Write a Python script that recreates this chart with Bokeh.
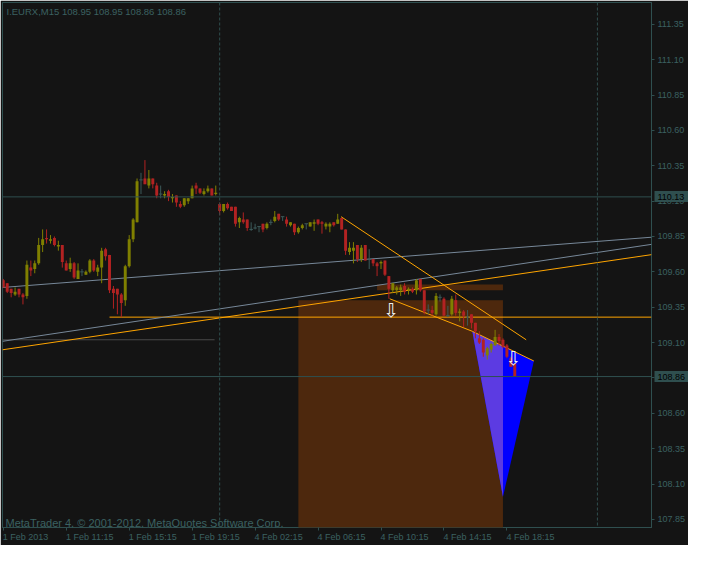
import numpy as np
from bokeh.plotting import figure
from bokeh.models import (ColumnDataSource, FixedTicker, Label, Span, Range1d,
                          NumeralTickFormatter, LinearAxis)
from bokeh.core.properties import value
from bokeh.embed import file_html
from bokeh.resources import INLINE

# ---------------- data (I.EURX, M15) ----------------
opens = [109.54, 109.52, 109.48, 109.44, 109.48, 109.44, 109.43, 109.63, 109.62, 109.66,
         109.79, 109.84, 109.82, 109.84, 109.78, 109.79, 109.66, 109.62, 109.66, 109.55,
         109.60, 109.58, 109.60, 109.68, 109.60, 109.63, 109.76, 109.72, 109.48, 109.48,
         109.44, 109.40, 109.64, 109.83, 109.95, 110.25, 110.26, 110.21, 110.26, 110.21,
         110.15, 110.14, 110.17, 110.12, 110.14, 110.08, 110.07, 110.10, 110.12, 110.21,
         110.19, 110.15, 110.17, 110.19, 110.15, 110.08, 110.03, 110.08, 110.06, 110.06,
         109.95, 109.97, 109.97, 109.90, 109.91, 109.92, 109.94, 109.91, 109.95, 109.96,
         110.01, 109.99, 109.97, 109.93, 109.94, 109.88, 109.91, 109.94, 109.92, 109.94,
         109.97, 109.95, 109.92, 109.92, 109.95, 109.94, 109.98, 109.90, 109.74, 109.75,
         109.79, 109.69, 109.79, 109.69, 109.69, 109.66, 109.66, 109.68, 109.57, 109.47,
         109.47, 109.47, 109.50, 109.47, 109.48, 109.47, 109.55, 109.47, 109.33, 109.33,
         109.30, 109.42, 109.41, 109.29, 109.30, 109.40, 109.31, 109.32, 109.28, 109.30,
         109.24, 109.13, 109.12, 109.01, 109.05, 109.08, 109.14, 109.12, 109.08, 108.99,
         108.95]
highs = [109.55, 109.52, 109.48, 109.49, 109.48, 109.45, 109.68, 109.68, 109.68, 109.84,
         109.90, 109.90, 109.86, 109.85, 109.82, 109.79, 109.68, 109.70, 109.67, 109.66,
         109.62, 109.61, 109.69, 109.69, 109.65, 109.77, 109.77, 109.72, 109.50, 109.48,
         109.45, 109.65, 109.86, 109.98, 110.26, 110.30, 110.39, 110.32, 110.26, 110.23,
         110.21, 110.17, 110.18, 110.15, 110.14, 110.10, 110.12, 110.12, 110.21, 110.23,
         110.19, 110.19, 110.21, 110.19, 110.21, 110.09, 110.08, 110.09, 110.06, 110.06,
         109.99, 110.02, 109.97, 109.95, 109.94, 109.92, 109.94, 109.95, 109.97, 110.03,
         110.01, 109.99, 109.99, 109.95, 109.94, 109.92, 109.94, 109.94, 109.95, 109.97,
         109.97, 109.96, 109.95, 109.95, 109.95, 110.01, 109.98, 109.90, 109.81, 109.81,
         109.79, 109.79, 109.79, 109.76, 109.69, 109.67, 109.68, 109.68, 109.57, 109.52,
         109.50, 109.51, 109.52, 109.49, 109.49, 109.55, 109.55, 109.47, 109.37, 109.36,
         109.45, 109.44, 109.42, 109.36, 109.43, 109.44, 109.34, 109.33, 109.33, 109.30,
         109.24, 109.18, 109.13, 109.07, 109.10, 109.19, 109.16, 109.13, 109.09, 109.00,
         108.95]
lows = [109.49, 109.45, 109.42, 109.43, 109.42, 109.37, 109.41, 109.57, 109.59, 109.65,
        109.74, 109.80, 109.80, 109.78, 109.75, 109.63, 109.61, 109.60, 109.55, 109.55,
        109.57, 109.58, 109.59, 109.60, 109.57, 109.52, 109.68, 109.45, 109.34, 109.30,
        109.28, 109.36, 109.63, 109.81, 109.95, 110.15, 110.22, 110.19, 110.19, 110.12,
        110.12, 110.12, 110.10, 110.09, 110.06, 110.05, 110.06, 110.08, 110.12, 110.15,
        110.15, 110.14, 110.16, 110.14, 110.14, 110.00, 110.02, 110.04, 110.03, 109.92,
        109.91, 109.94, 109.89, 109.89, 109.90, 109.88, 109.88, 109.90, 109.93, 109.95,
        109.96, 109.96, 109.92, 109.92, 109.86, 109.87, 109.90, 109.90, 109.92, 109.89,
        109.93, 109.87, 109.90, 109.88, 109.92, 109.94, 109.90, 109.72, 109.72, 109.66,
        109.67, 109.67, 109.68, 109.62, 109.64, 109.57, 109.62, 109.57, 109.41, 109.45,
        109.44, 109.43, 109.44, 109.44, 109.45, 109.44, 109.46, 109.30, 109.30, 109.29,
        109.29, 109.39, 109.29, 109.28, 109.29, 109.29, 109.25, 109.21, 109.22, 109.20,
        109.13, 109.09, 109.00, 108.98, 109.03, 109.08, 109.08, 109.06, 108.99, 108.93,
        108.86]
closes = [109.49, 109.46, 109.45, 109.46, 109.44, 109.42, 109.65, 109.61, 109.66, 109.79,
          109.83, 109.83, 109.83, 109.79, 109.79, 109.67, 109.61, 109.66, 109.56, 109.61,
          109.60, 109.60, 109.68, 109.61, 109.63, 109.75, 109.71, 109.47, 109.45, 109.44,
          109.38, 109.64, 109.83, 109.97, 110.24, 110.25, 110.22, 110.26, 110.22, 110.14,
          110.15, 110.15, 110.13, 110.13, 110.09, 110.06, 110.12, 110.12, 110.19, 110.19,
          110.16, 110.17, 110.19, 110.14, 110.16, 110.03, 110.08, 110.05, 110.03, 109.94,
          109.98, 109.95, 109.91, 109.90, 109.91, 109.92, 109.90, 109.94, 109.95, 109.99,
          109.97, 109.99, 109.94, 109.95, 109.88, 109.91, 109.93, 109.94, 109.95, 109.95,
          109.94, 109.94, 109.94, 109.94, 109.93, 109.97, 109.90, 109.75, 109.77, 109.77,
          109.69, 109.77, 109.68, 109.69, 109.66, 109.64, 109.67, 109.58, 109.48, 109.52,
          109.49, 109.49, 109.46, 109.48, 109.46, 109.54, 109.47, 109.32, 109.33, 109.31,
          109.43, 109.42, 109.29, 109.29, 109.41, 109.31, 109.32, 109.29, 109.28, 109.24,
          109.18, 109.10, 109.03, 109.06, 109.09, 109.14, 109.11, 109.07, 109.00, 108.93,
          108.86]

time_tick_bars = [0, 16, 32, 48, 64, 80, 96, 112, 128]
time_tick_labels = ["1 Feb 2013", "1 Feb 11:15", "1 Feb 15:15", "1 Feb 19:15", "4 Feb 02:15",
                    "4 Feb 06:15", "4 Feb 10:15", "4 Feb 14:15", "4 Feb 18:15"]
price_ticks = [107.85, 108.10, 108.35, 108.60, 108.85, 109.10, 109.35, 109.60,
               109.85, 110.10, 110.35, 110.60, 110.85, 111.10, 111.35]
day_separator_bars = [55, 151]

hline_level = 110.13
bid_level = 108.86
orange_level = 109.28
orange_level_start_bar = 27
gray_level = 109.12
gray_level_end_bar = 53.7

gray_ray_a_bars = [0, 130]
gray_ray_a_prices = [109.49, 109.77]
gray_ray_b_bars = [0, 130]
gray_ray_b_prices = [109.11, 109.65]
orange_ray_bars = [0, 130]
orange_ray_prices = [109.05, 109.58]
trend_high_bars = [85.85, 132.9]
trend_high_prices = [109.99, 109.12]
trend_low_bars = [98.2, 119.2, 134.85]
trend_low_prices = [109.41, 109.18, 108.97]
triangle_bars = [119.2, 134.85, 127.0]
triangle_prices = [109.18, 108.97, 108.01]
big_box_bars = [75, 127]
big_box_prices = [107.0, 109.40]
small_box_bars = [95, 127]
small_box_prices = [109.47, 109.51]
arrow_bars = [98.5, 129.6]
arrow_prices = [109.33, 108.99]

header_text = "I.EURX,M15  108.95 108.95 108.86 108.86"
footer_text = "MetaTrader 4, \u00a9 2001-2012, MetaQuotes Software Corp."

# ---------------- styling ----------------
BG = "#141414"
GRID = "#2F4F4F"
TXT = "#3B6161"
BULL = "#808000"
BEAR = "#B22222"
DOJI = "#3C5A5A"
ORANGE = "#FFA500"
SLATE = "#778899"
BROWN = "#4D280D"
BLUE = "#0000FF"
PURPLE = "#5C3BE2"
FONT = "Liberation Sans"
AXIS_FS = 9

W, H = 688, 545
BL, BT, BR, BB = 2, 2, 37, 18
X0, X1 = -0.2, 164.75
Y0, Y1 = 107.793, 111.504
frame_w = W - BL - BR
frame_h = H - BT - BB
px_x = frame_w / (X1 - X0)
px_y = frame_h / (Y1 - Y0)

# approximate advance widths (em) of Liberation Sans
EM = {" ": 0.278, ":": 0.278, ".": 0.278, "F": 0.611, "e": 0.556, "b": 0.556}
def text_width(s, size):
    return sum(EM.get(ch, 0.556) for ch in s) * size

p = figure(width=W, height=H, output_backend="svg", toolbar_location=None,
           x_range=Range1d(X0, X1), y_range=Range1d(Y0, Y1),
           y_axis_location="right", min_border_left=BL, min_border_top=BT,
           min_border_right=BR, min_border_bottom=BB)
p.background_fill_color = BG
p.border_fill_color = BG
p.outline_line_color = GRID
p.outline_line_width = 1
p.grid.visible = False

# price axis
TICK_OUT, STANDOFF = 3, 3
p.yaxis.ticker = FixedTicker(ticks=price_ticks)
p.yaxis.formatter = NumeralTickFormatter(format="0.00")
p.yaxis.axis_line_color = None
p.yaxis.major_tick_line_color = GRID
p.yaxis.major_tick_out = TICK_OUT
p.yaxis.major_tick_in = 0
p.yaxis.minor_tick_line_color = None
p.yaxis.minor_tick_out = 0
p.yaxis.minor_tick_in = 0
p.yaxis.major_label_text_font = FONT
p.yaxis.major_label_text_font_size = f"{AXIS_FS}px"
p.yaxis.major_label_text_color = TXT
p.yaxis.major_label_standoff = STANDOFF

# price markers (boxes): outer axis whose thick ticks reach back over the price scale
inner = int(round(TICK_OUT + STANDOFF + text_width("111.35", AXIS_FS) + 3))
marker_axis = LinearAxis(ticker=FixedTicker(ticks=[hline_level, bid_level]),
                         formatter=NumeralTickFormatter(format="0.00"))
marker_axis.axis_line_color = None
marker_axis.minor_tick_line_color = None
marker_axis.minor_tick_out = 0
marker_axis.minor_tick_in = 0
marker_axis.major_tick_line_color = GRID
marker_axis.major_tick_line_width = 11
marker_axis.major_tick_in = inner - 3
marker_axis.major_tick_out = 0
marker_axis.major_label_standoff = 6 - inner
marker_axis.major_label_text_font = FONT
marker_axis.major_label_text_font_size = f"{AXIS_FS}px"
marker_axis.major_label_text_color = "#000000"
p.add_layout(marker_axis, "right")

# time axis: tick marks (minor ticks) at the bars, labels starting at the tick marks
label_pos = [round(b + (text_width(s, AXIS_FS) / 2 - 0.5) / px_x, 4)
             for b, s in zip(time_tick_bars, time_tick_labels)]
p.xaxis.ticker = FixedTicker(ticks=label_pos, minor_ticks=time_tick_bars)
p.xaxis.major_label_overrides = {pos: s for pos, s in zip(label_pos, time_tick_labels)}
p.xaxis.axis_line_color = None
p.xaxis.major_tick_line_color = None
p.xaxis.major_tick_out = 3
p.xaxis.major_tick_in = 0
p.xaxis.minor_tick_line_color = GRID
p.xaxis.minor_tick_out = 3
p.xaxis.minor_tick_in = 0
p.xaxis.major_label_standoff = 1
p.xaxis.major_label_text_font = FONT
p.xaxis.major_label_text_font_size = f"{AXIS_FS}px"
p.xaxis.major_label_text_color = TXT

# background objects
p.quad(left=[big_box_bars[0]], right=[big_box_bars[1]], bottom=[big_box_prices[0]],
       top=[big_box_prices[1]], fill_color=BROWN, line_color=None)
p.quad(left=[small_box_bars[0]], right=[small_box_bars[1]], bottom=[small_box_prices[0]],
       top=[small_box_prices[1]], fill_color=BROWN, line_color=None)
p.patch(triangle_bars, triangle_prices, fill_color=BLUE, line_color=None)
edge = big_box_bars[1]
t = (edge - triangle_bars[0]) / (triangle_bars[1] - triangle_bars[0])
edge_price = triangle_prices[0] + t * (triangle_prices[1] - triangle_prices[0])
p.patch([triangle_bars[0], edge, edge], [triangle_prices[0], edge_price, triangle_prices[2]],
        fill_color=PURPLE, line_color=None)

# day separators
for b in day_separator_bars:
    p.add_layout(Span(location=b, dimension="height", line_color=GRID,
                      line_dash="3 2", line_width=1))

# horizontal levels
p.add_layout(Span(location=hline_level, dimension="width", line_color=GRID, line_width=1))
p.add_layout(Span(location=bid_level, dimension="width", line_color=GRID, line_width=1))
p.line([orange_level_start_bar, X1], [orange_level, orange_level], line_color=ORANGE, line_width=1)
p.line([X0, gray_level_end_bar], [gray_level, gray_level], line_color="#4A4A4A", line_width=1)

def ray(bars, prices):
    slope = (prices[1] - prices[0]) / (bars[1] - bars[0])
    return [X0, X1], [prices[0] + slope * (X0 - bars[0]), prices[0] + slope * (X1 - bars[0])]

for bb, pp, col in [(gray_ray_a_bars, gray_ray_a_prices, SLATE),
                    (gray_ray_b_bars, gray_ray_b_prices, SLATE),
                    (orange_ray_bars, orange_ray_prices, ORANGE)]:
    xs, ys = ray(bb, pp)
    p.line(xs, ys, line_color=col, line_width=1)

p.line(trend_high_bars, trend_high_prices, line_color=ORANGE, line_width=1)
p.line(trend_low_bars, trend_low_prices, line_color=ORANGE, line_width=1)

# candles
o = np.array(opens); h = np.array(highs); l = np.array(lows); c = np.array(closes)
idx = np.arange(len(o))
colors = np.where(c > o, BULL, np.where(c < o, BEAR, DOJI))
src = ColumnDataSource(dict(x=idx, l=l, h=h, col=colors))
p.segment(x0="x", y0="l", x1="x", y1="h", line_color="col", line_width=1, source=src)
nd = o != c
body = ColumnDataSource(dict(x=idx[nd], top=np.maximum(o, c)[nd],
                             bot=np.minimum(o, c)[nd], col=colors[nd]))
p.vbar(x="x", top="top", bottom="bot", width=0.75, fill_color="col", line_color=None, source=body)
doj = ~nd
p.segment(x0=(idx - 0.45)[doj], y0=o[doj], x1=(idx + 0.45)[doj], y1=o[doj],
          line_color=DOJI, line_width=1)

# arrows
p.text(x=arrow_bars, y=arrow_prices, text=["\u21e9"] * len(arrow_bars),
       text_align="center", text_baseline="middle", text_color="#F0F0F0",
       text_font=value("DejaVu Sans"), text_font_size="19px")

# texts inside the chart
p.add_layout(Label(x=X0 + 4 / px_x, y=Y1 - 9 / px_y, text=header_text, text_font=FONT,
                   text_font_size="9.5px", text_color=TXT, text_baseline="middle"))
p.add_layout(Label(x=X0 + 3 / px_x, y=Y0 + 4.5 / px_y, text=footer_text, text_font=FONT,
                   text_font_size="11px", text_color=TXT, text_baseline="middle"))

open("out.html", "w").write(file_html(p, INLINE))
